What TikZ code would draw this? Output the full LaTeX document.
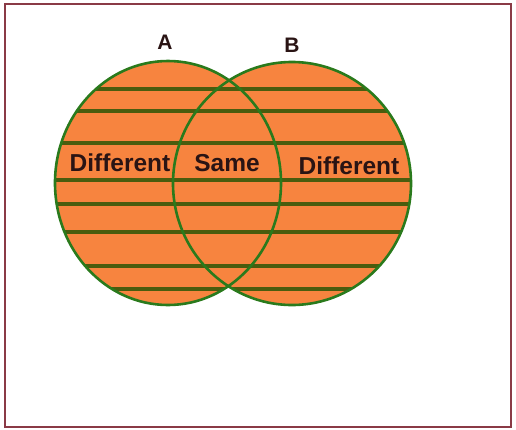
\documentclass[tikz,border=0pt]{standalone}
\usepackage{fontspec}
\setmainfont{Liberation Sans}
\definecolor{orng}{HTML}{F7843F}
\definecolor{hatch}{HTML}{4A5C0E}
\definecolor{ring}{HTML}{2A7A1C}
\definecolor{framec}{HTML}{8A3A46}
\definecolor{ink}{HTML}{2A1414}
\begin{document}
\begin{tikzpicture}[x=1pt,y=-1pt,
  lbl/.style={font=\bfseries\fontsize{24.5}{28}\selectfont, text=ink, inner sep=0pt},
  ttl/.style={font=\bfseries\fontsize{21}{25}\selectfont, text=ink, inner sep=0pt},
  hatchline/.style={hatch, line width=3.2pt},
  ringline/.style={ring, line width=2.6pt}]
\useasboundingbox (0,0) rectangle (516,429);
\fill[white] (0,0) rectangle (516,429);
\draw[framec, line width=2pt] (5,4) rectangle (511,427);
% fills
\fill[orng] (168,183) ellipse [x radius=113pt, y radius=122pt];
\fill[orng] (292,183.5) ellipse [x radius=119pt, y radius=121.5pt];
% hatch lines clipped to each circle
\foreach \yy in {89,111,143,180,204,232,266,289}{
  \begin{scope}
    \clip (168,183) ellipse [x radius=113pt, y radius=122pt];
    \draw[hatchline] (40,\yy) -- (300,\yy);
  \end{scope}
  \begin{scope}
    \clip (292,183.5) ellipse [x radius=119pt, y radius=121.5pt];
    \draw[hatchline] (160,\yy) -- (420,\yy);
  \end{scope}
}
% outlines
\draw[ringline] (168,183) ellipse [x radius=113pt, y radius=122pt];
\draw[ringline] (292,183.5) ellipse [x radius=119pt, y radius=121.5pt];
% labels
\node[ttl] (la) at (165,42) {A};
\node[ttl] (lb) at (292,45) {B};
\node[lbl] (dl) at (120,163) {Different};
\node[lbl] (sm) at (227,163) {Same};
\node[lbl] (dr) at (349,166) {Different};
\end{tikzpicture}
\end{document}
